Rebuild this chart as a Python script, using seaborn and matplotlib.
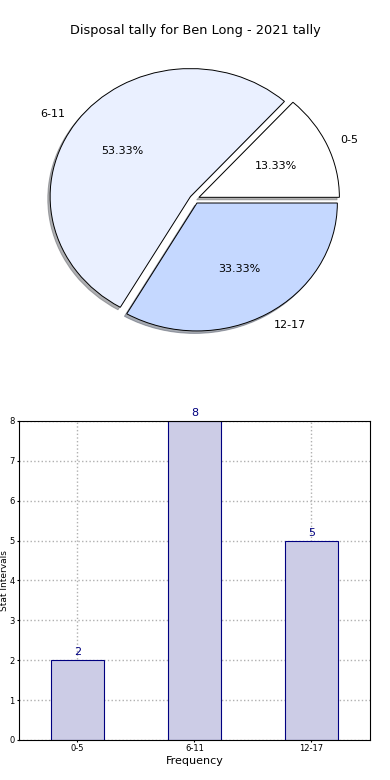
import matplotlib
matplotlib.use('Agg')
import matplotlib.pyplot as plt
import seaborn as sns
import pandas as pd

# data
intervals = ['0-5', '6-11', '12-17']
counts = [2, 8, 5]
pie_colors = ['#FFFFFF', '#EAF0FF', '#C5D8FF']
title = 'Disposal tally for Ben Long - 2021 tally'

fig = plt.figure(figsize=(3.9, 7.8), dpi=100)
ax_pie = fig.add_axes([0.0487, 0.5397, 0.9, 0.41])
ax_bar = fig.add_axes([0.0487, 0.0513, 0.9, 0.409])

# pie on top
wedges, texts, autotexts = ax_pie.pie(
    counts, labels=intervals, colors=pie_colors, autopct='%.2f%%',
    explode=[0.035] * len(counts),
    shadow={'ox': -0.012, 'oy': -0.014, 'shade': 0.6}, startangle=0,
    wedgeprops={'edgecolor': 'black', 'linewidth': 0.7},
    textprops={'fontsize': 8})
ax_pie.set_aspect('auto')
ax_pie.set_xlim(-1.25, 1.25)
ax_pie.set_ylim(-1.25, 1.25)
fig.text(0.5, 0.961, title, ha='center', va='center', fontsize=9.3)

# bar chart below
df = pd.DataFrame({'interval': intervals, 'count': counts})
sns.barplot(data=df, x='interval', y='count', ax=ax_bar, color='#CCCCE6',
            saturation=1, width=0.45, edgecolor='navy', linewidth=0.8, zorder=2)
for c in ax_bar.containers:
    ax_bar.bar_label(c, fmt='%d', color='navy', fontsize=8, padding=2)
ax_bar.set_ylim(0, 8)
ax_bar.set_xlim(-0.5, 2.5)
ax_bar.grid(True, linestyle=':', color='#B0B0B0', linewidth=1, zorder=0)
ax_bar.set_axisbelow(True)
ax_bar.tick_params(labelsize=6, length=1.5, pad=1.5)
ax_bar.set_xlabel('Frequency', fontsize=8, labelpad=2)
ax_bar.set_ylabel('Stat Intervals', fontsize=6.5)
ax_bar.yaxis.set_label_coords(-0.028, 0.5)
for s in ax_bar.spines.values():
    s.set_color('black')
    s.set_linewidth(0.8)

fig.savefig('out.png', dpi=100)
